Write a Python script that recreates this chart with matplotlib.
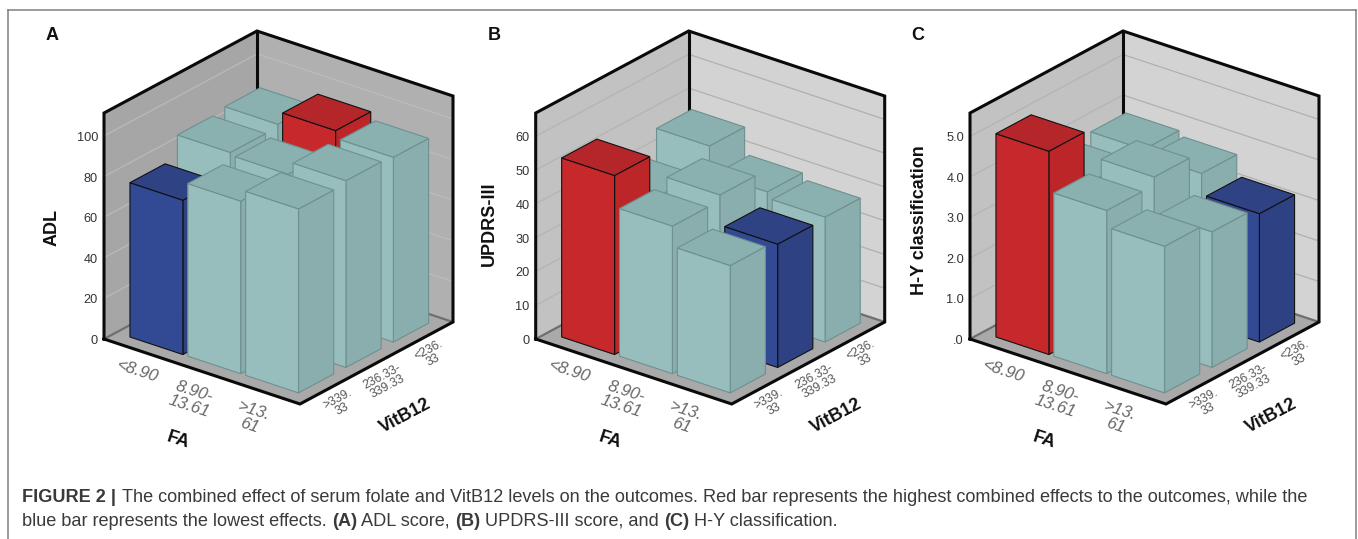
import numpy as np
import matplotlib
matplotlib.use("Agg")
import matplotlib.pyplot as plt
from matplotlib.patches import Polygon
from matplotlib.lines import Line2D

plt.rcParams['font.family'] = ['Liberation Sans', 'DejaVu Sans']

W, H = 1358, 539
FA_LABELS = ['<8.90', '8.90-\n13.61', '>13.\n61']
VIT_LABELS = ['>339.\n33', '236.33-\n339.33', '<236.\n33']

# rows: FA category; columns: VitB12 category (front to back)
ADL = [[76, 87, 88.4], [85, 85.7, 94.7], [90.6, 92, 91]]
UPDRS = [[53, 40, 46.7], [43.7, 45.4, 38.8], [37.7, 36.5, 37]]
HY = [[5.02, 3.71, 3.81], [4.03, 4.23, 3.69], [3.62, 3.35, 3.17]]

ADL_TICKS = [0, 20, 40, 60, 80, 100]
UPDRS_TICKS = [0, 10, 20, 30, 40, 50, 60]
HY_TICKS = [0, 1, 2, 3, 4, 5]
HY_TICKLABELS = ['.0', '1.0', '2.0', '3.0', '4.0', '5.0']

# geometry (pixels)
EU = np.array([196.0, -65.0])
EW = np.array([153.0, 82.0])
WALL_H = 226.0
U0 = [0.07, 0.365, 0.66]
W0 = [0.08, 0.39, 0.70]
BU, BW = 0.27, 0.23
FLOOR_Y = 339

TEAL = ('#97bdbd', '#8bb0b0', '#8aadad', '#6f9090')
RED = ('#c6282c', '#b5262a', '#bd2629', '#111111')
BLUE = ('#324a93', '#2f4283', '#2d4183', '#111111')


def proj(u, w, h=0.0):
    p = u * EU + w * EW
    return (p[0], p[1] + h)


def draw_panel(ox, letter, letter_x, ylabel, ylabel_x, ylabel_y, values, ymax, ticks, ticklabels,
               lwall, rwall, gridl, gridr):
    ax = fig.add_axes([(ox - 110) / W, 1 - 465 / H, 470 / W, 465 / H])
    ax.set_xlim(-110, 360)
    ax.set_ylim(FLOOR_Y - 465, FLOOR_Y)
    ax.axis('off')
    k = WALL_H / ymax

    # walls and floor
    ax.add_patch(Polygon([proj(0, 0), proj(0, 1), proj(0, 1, WALL_H), proj(0, 0, WALL_H)],
                         fc=lwall, ec='none', zorder=1))
    ax.add_patch(Polygon([proj(0, 1), proj(1, 1), proj(1, 1, WALL_H), proj(0, 1, WALL_H)],
                         fc=rwall, ec='none', zorder=1))
    ax.add_patch(Polygon([proj(0, 0), proj(1, 0), proj(1, 1), proj(0, 1)],
                         fc='#a9a9a9', ec='none', zorder=1))
    for t in ticks[1:]:
        h = t * k
        ax.add_line(Line2D(*zip(proj(0, 0, h), proj(0, 1, h)), color=gridl, lw=0.9, zorder=2))
        ax.add_line(Line2D(*zip(proj(0, 1, h), proj(1, 1, h)), color=gridr, lw=0.9, zorder=2))
    # darker wall foot
    ax.add_line(Line2D(*zip(proj(0, 0), proj(0, 1), proj(1, 1)), color='#6f6f6f', lw=1.6, zorder=2))

    # frame
    frame = dict(color='#0a0a0a', lw=2.2, zorder=3, solid_joinstyle='miter', solid_capstyle='projecting')
    ax.add_line(Line2D(*zip(proj(0, 0), proj(0, 0, WALL_H), proj(0, 1, WALL_H), proj(1, 1, WALL_H),
                            proj(1, 1), proj(1, 0), proj(0, 0)), **frame))
    ax.add_line(Line2D(*zip(proj(0, 1), proj(0, 1, WALL_H)), **frame))

    # bars, back to front
    vals = np.array(values, dtype=float)
    imax = np.unravel_index(np.argmax(vals), vals.shape)
    imin = np.unravel_index(np.argmin(vals), vals.shape)
    z = 4
    for j in (2, 1, 0):
        for i in (0, 1, 2):
            cols = RED if (i, j) == imax else BLUE if (i, j) == imin else TEAL
            front, top, side, edge = cols
            u, w = U0[i], W0[j]
            h = vals[i, j] * k
            st = dict(ec=edge, lw=0.8, joinstyle='miter', zorder=z)
            ax.add_patch(Polygon([proj(u + BU, w), proj(u + BU, w + BW), proj(u + BU, w + BW, h), proj(u + BU, w, h)],
                                 fc=side, **st))
            ax.add_patch(Polygon([proj(u, w), proj(u + BU, w), proj(u + BU, w, h), proj(u, w, h)],
                                 fc=front, **st))
            ax.add_patch(Polygon([proj(u, w, h), proj(u + BU, w, h), proj(u + BU, w + BW, h), proj(u, w + BW, h)],
                                 fc=top, **st))
            z += 1

    # value tick labels
    for t, lab in zip(ticks, ticklabels):
        ax.text(-6, t * k - 2, lab, ha='right', va='center', fontsize=9.2, color='#333333', zorder=30)

    # category labels
    for (dx, dy), lab in zip([(34, -32), (88, -60), (148, -79)], FA_LABELS):
        ax.text(dx, dy, lab, rotation=-18, ha='center', va='center', fontsize=12.2, style='italic',
                color='#666666', linespacing=1.08, rotation_mode='anchor', multialignment='center', zorder=30)
    for (dx, dy), lab in zip([(236, -65), (281, -43), (327, -16)], VIT_LABELS):
        ax.text(dx, dy, lab, rotation=28, ha='center', va='center', fontsize=8.8, color='#555555',
                linespacing=0.9, rotation_mode='anchor', multialignment='center', zorder=30)

    # axis titles
    ax.text(74, -101, 'FA', rotation=-18, ha='center', va='center', fontsize=13, fontweight='bold',
            color='#111111', rotation_mode='anchor', zorder=30)
    ax.text(301, -77, 'VitB12', rotation=28, ha='center', va='center', fontsize=13, fontweight='bold',
            color='#111111', rotation_mode='anchor', zorder=30)
    ax.text(ylabel_x - ox, FLOOR_Y - ylabel_y, ylabel, rotation=90, ha='center', va='center', fontsize=13,
            fontweight='bold', color='#111111', zorder=30)
    ax.text(letter_x - ox, FLOOR_Y - 35, letter, ha='center', va='center', fontsize=13, fontweight='bold',
            color='#111111', zorder=30)


fig = plt.figure(figsize=(W / 100, H / 100), dpi=100, facecolor='white')

draw_panel(104, 'A', 52, 'ADL', 52, 227, ADL, 111.3, ADL_TICKS, [str(t) for t in ADL_TICKS],
           '#a6a6a6', '#b0b0b0', '#bababa', '#bcbcbc')
draw_panel(535.7, 'B', 494, 'UPDRS-III', 489, 224, UPDRS, 66.9, UPDRS_TICKS, [str(t) for t in UPDRS_TICKS],
           '#c2c2c2', '#d3d3d3', '#b4b4b4', '#b0b0b0')
draw_panel(970, 'C', 918, 'H-Y classification', 920, 220, HY, 5.58, HY_TICKS, HY_TICKLABELS,
           '#c2c2c2', '#d3d3d3', '#b4b4b4', '#b0b0b0')

# outer border
for xs, ys in [((8, 8), (539, 9.5)), ((8, 1355.5), (9.5, 9.5)), ((1355.5, 1355.5), (9.5, 539))]:
    fig.add_artist(Line2D([x / W for x in xs], [1 - y / H for y in ys], color='#808080', lw=1.1))


def rich_line(x, y, runs, size=13.05):
    renderer = fig.canvas.get_renderer()
    for s, bold in runs:
        weight = 'bold' if bold else 'normal'
        fig.text(x / W, 1 - y / H, s, fontsize=size, va='baseline', ha='left', color='#3a3a3a', fontweight=weight)
        pad = fig.text(0, 0, s + '|', fontsize=size, fontweight=weight)
        bar = fig.text(0, 0, '|', fontsize=size, fontweight=weight)
        x += pad.get_window_extent(renderer).width - bar.get_window_extent(renderer).width
        pad.remove()
        bar.remove()


rich_line(22.5, 502, [('FIGURE 2 | ', True),
                      ('The combined effect of serum folate and VitB12 levels on the outcomes. Red bar represents '
                       'the highest combined effects to the outcomes, while the', False)])
rich_line(22.5, 526, [('blue bar represents the lowest effects. ', False), ('(A)', True), (' ADL score, ', False),
                      ('(B)', True), (' UPDRS-III score, and ', False), ('(C)', True), (' H-Y classification.', False)])

fig.savefig('out.png', dpi=100, facecolor='white')
